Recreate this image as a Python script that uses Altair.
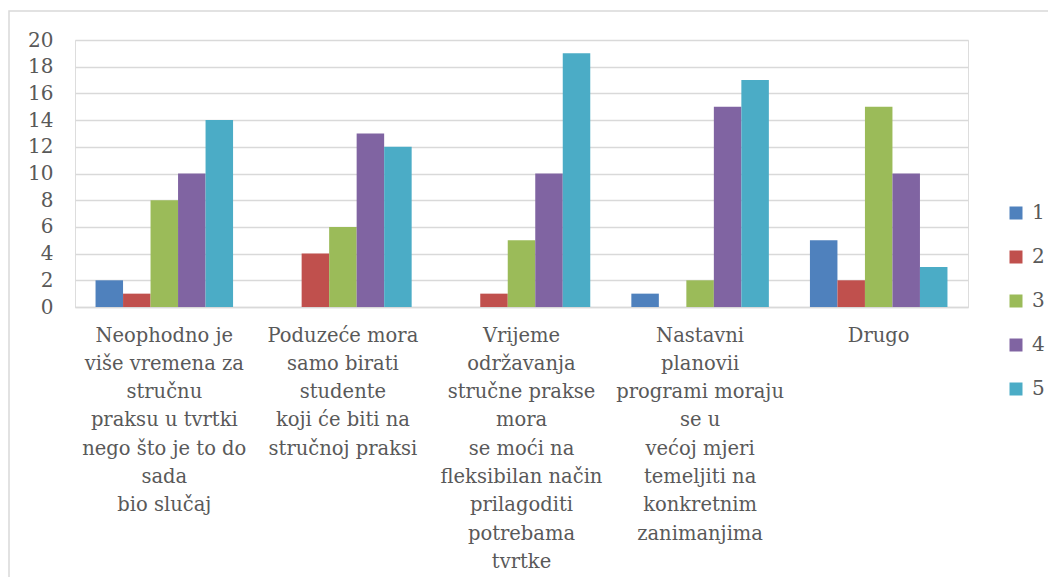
import altair as alt
import pandas as pd

categories = [
    "Neophodno je\nviše vremena za\nstručnu\npraksu u tvrtki\nnego što je to do\nsada\nbio slučaj",
    "Poduzeće mora\nsamo birati\nstudente\nkoji će biti na\nstručnoj praksi",
    "Vrijeme\nodržavanja\nstručne prakse\nmora\nse moći na\nfleksibilan način\nprilagoditi\npotrebama\ntvrtke",
    "Nastavni\nplanovii\nprogrami moraju\nse u\nvećoj mjeri\ntemeljiti na\nkonkretnim\nzanimanjima",
    "Drugo",
]
series_names = ["1", "2", "3", "4", "5"]
s1 = [2, 0, 0, 1, 5]
s2 = [1, 4, 1, 0, 2]
s3 = [8, 6, 5, 2, 15]
s4 = [10, 13, 10, 15, 10]
s5 = [14, 12, 19, 17, 3]
colors = ["#4F81BD", "#C0504D", "#9BBB59", "#8064A2", "#4BACC6"]

rows = []
for name, vals in zip(series_names, [s1, s2, s3, s4, s5]):
    for c, v in zip(categories, vals):
        rows.append({"cat": c, "series": name, "value": v})
df = pd.DataFrame(rows)

FONT = "DejaVu Serif"
GREY = "#595959"

bars = alt.Chart(df).mark_bar().encode(
    x=alt.X("cat:N", sort=categories, title=None,
            scale=alt.Scale(paddingInner=0.23, paddingOuter=0.115),
            axis=alt.Axis(labelAngle=0, labelExpr="split(datum.label, '\\n')",
                          labelLineHeight=28.3, labelFontSize=19.5, labelFont=FONT,
                          labelColor=GREY, labelPadding=19, ticks=False,
                          domain=True, domainColor="#D9D9D9", domainWidth=1.3,
                          labelLimit=300, labelBaseline="top")),
    xOffset=alt.XOffset("series:N", sort=series_names),
    y=alt.Y("value:Q", title=None,
            scale=alt.Scale(domain=[0, 20]),
            axis=alt.Axis(values=list(range(0, 21, 2)), grid=True, gridColor="#D9D9D9",
                          gridWidth=1.3, domain=False, ticks=False, labelPadding=22,
                          labelFontSize=20, labelFont=FONT, labelColor=GREY)),
    color=alt.Color("series:N", sort=series_names, title=None,
                    scale=alt.Scale(domain=series_names, range=colors),
                    legend=alt.Legend(orient="none", legendX=931, legendY=163,
                                      symbolType="square", symbolSize=169,
                                      symbolStrokeWidth=0,
                                      labelFontSize=20, labelFont=FONT, labelColor=GREY,
                                      rowPadding=24, labelOffset=6)),
)

frame = alt.Chart(pd.DataFrame({"k": [0]})).mark_rect(
    fill=None, stroke="#D9D9D9", strokeWidth=1.5
).encode(
    x=alt.value(-66), x2=alt.value(1100), y=alt.value(-29), y2=alt.value(700)
)

chart = alt.layer(frame, bars).properties(
    width=893, height=267,
    padding={"left": 67, "top": 32, "right": 80, "bottom": 270},
    autosize=alt.AutoSizeParams(type="none"),
).configure_view(stroke=None).configure(background="white")

chart.save("out.html", embed_options={"renderer": "svg", "actions": False})
